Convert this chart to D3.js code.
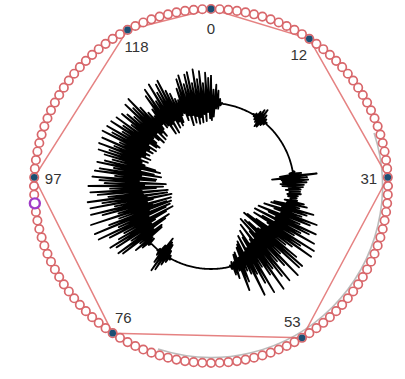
<!DOCTYPE html>
<html>
<head>
<meta charset="utf-8">
<script src="https://cdn.jsdelivr.net/npm/d3@7"></script>
<style>
  html, body { margin: 0; padding: 0; background: #fff; }
  svg { display: block; }
</style>
</head>
<body>
<svg id="chart" width="405" height="379"></svg>
<script>
// Ring of positions around the circle
const ringSize = 128;
// Positions that are marked and joined by the polygon
const markedPositions = [0, 12, 31, 53, 76, 97, 118];
// Currently selected position
const selectedPosition = 94;
// Labels drawn next to the marked positions
const markedLabels = ["0", "12", "31", "53", "76", "97", "118"];

// Signal samples drawn around the inner circle (clockwise from the top)
const signal = [
  .62,-.38,.30,-.30,.41,-.12,.28,-.12,.10,-.04,.02,0,0,0,0,0,
  0,0,0,0,0,0,0,0,0,0,0,0,0,0,0,0,
  0,0,0,0,0,0,0,0,0,.02,-.03,.06,-.08,.14,-.12,.22,
  -.20,.26,-.18,.15,-.10,.08,-.05,.03,0,0,0,0,0,0,0,0,
  0,0,0,0,0,0,0,0,0,0,0,0,0,0,0,0,
  0,0,0,0,0,0,0,0,0,0,0,0,0,0,0,0,
  0,0,0,0,0,0,0,0,0,0,0,.04,-.08,.18,-.30,.52,
  -.48,.30,-.27,.32,-.25,.28,-.30,.22,-.26,.20,-.12,.15,-.18,.14,-.10,.16,
  -.14,.10,-.12,.08,-.06,.10,-.18,.26,-.12,.34,-.40,.18,-.46,.52,-.20,.38,
  -.60,.28,-.35,.66,-.18,.52,-.70,.30,-.44,.72,-.25,.58,-.75,.40,-.22,.78,
  -.52,.30,-.72,.86,-.35,.54,-.28,.88,-.60,.40,-.82,.26,-.90,.62,-.38,.85,
  -.44,.82,-.68,.30,-.78,.92,-.40,.55,-.86,.38,-.52,.88,-.32,.70,-.76,.44,
  -.38,.95,-.30,.52,-.66,.28,-.50,.90,-.25,.62,-.58,.36,-.20,.85,-.48,.30,
  -.42,.20,-.36,.44,-.14,.62,-.28,.14,-.24,.30,-.08,.20,-.10,.06,-.03,0,
  0,0,0,0,0,0,0,0,0,0,0,0,0,0,0,0,
  0,0,0,0,0,0,0,0,0,0,0,0,0,0,0,0,
  0,0,0,0,0,0,0,0,0,0,0,0,0,0,0,0,
  0,0,0,0,0,0,0,.03,-.06,.12,-.15,.22,-.28,.38,-.32,.45,
  -.40,.26,-.18,.10,-.05,.02,0,0,0,0,0,0,0,0,.06,-.12,
  .20,-.12,.35,-.42,.18,-.45,.62,-.25,.70,-.60,.30,-.72,.66,-.28,.78,-.40,
  .52,-.70,.35,-.88,.68,-.30,.92,-.74,.40,-.85,.95,-.36,.58,-.90,.32,-.80,
  .96,-.48,.30,-.92,.65,-.38,.90,-.52,.34,-.95,.88,-.40,.60,-.86,.92,-.32,
  .45,-.88,.68,-.30,.84,-.62,.40,-.78,.88,-.36,.52,-.84,.64,-.24,.80,-.60,
  .30,-.62,.76,-.28,.66,-.72,.35,-.55,.74,-.24,.58,-.68,.42,-.56,.62,-.30,
  .78,-.22,.55,-.35,.82,-.16,.48,-.38,.80,-.24,.40,-.32,.86,-.20,.65,-.36,
  .82,-.25,.46,-.40,.80,-.18,.52,-.36,.75,-.42,.38,-.30,.70,-.18,.60,-.30,
  .45,-.42,.78,-.16,.60,-.40,.82,-.24,.50,-.36,.30,-.20,.15,-.10,.30,-.22,
  .62,-.20,.75,-.44,.40,-.22,.80,-.46,.55,-.18,.72,-.38,.78,-.25,.50,-.36,
  .40,-.30,.25,-.15,.20,-.12,.45,-.30,.65,-.20,.72,-.44,.50,-.22,.70,-.40,
  .74,-.26,.48,-.44,.78,-.30,.55,-.42,.72,-.24,.45,-.40,.68,-.20,.56,-.34
];

const width = 405, height = 379;
const cx = 211, cy = 186;
const ringRadius = 177;
const labelRadius = 158;
const baseRadius = 83;

const svg = d3.select("#chart");
const g = svg.append("g").attr("transform", `translate(${cx},${cy})`);

// angle of a ring position, clockwise from 12 o'clock
const posAngle = d3.scaleLinear().domain([0, ringSize]).range([0, 2 * Math.PI]);
const px = (r, a) => r * Math.sin(a);
const py = (r, a) => -r * Math.cos(a);

// faint shadow arc along the lower right of the ring
g.append("path")
  .attr("d", d3.arc()({innerRadius: 171.5, outerRadius: 171.5,
    startAngle: Math.PI * 0.40, endAngle: Math.PI * 1.10}))
  .attr("fill", "none")
  .attr("stroke", "#777")
  .attr("stroke-opacity", 0.5)
  .attr("stroke-width", 1.6);

// polygon joining the marked positions
const polyPts = markedPositions.map(p => [px(ringRadius, posAngle(p)), py(ringRadius, posAngle(p))]);
g.append("path")
  .attr("d", d3.line()(polyPts) + "Z")
  .attr("fill", "none")
  .attr("stroke", "#e06c6c")
  .attr("stroke-opacity", 0.85)
  .attr("stroke-width", 1.5);

// ring of small circles
g.append("g").selectAll("circle")
  .data(d3.range(ringSize))
  .join("circle")
  .attr("cx", d => px(ringRadius, posAngle(d)))
  .attr("cy", d => py(ringRadius, posAngle(d)))
  .attr("r", 4.2)
  .attr("fill", "#fff")
  .attr("stroke", "#d8676b")
  .attr("stroke-width", 1.7);

// selected position
g.append("circle")
  .attr("cx", px(ringRadius, posAngle(selectedPosition)))
  .attr("cy", py(ringRadius, posAngle(selectedPosition)))
  .attr("r", 5)
  .attr("fill", "#fff")
  .attr("stroke", "#a03cc8")
  .attr("stroke-width", 2.4);

// marked positions
g.append("g").selectAll("circle")
  .data(markedPositions)
  .join("circle")
  .attr("cx", d => px(ringRadius, posAngle(d)))
  .attr("cy", d => py(ringRadius, posAngle(d)))
  .attr("r", 3.4)
  .attr("fill", "#1c4f73");

// labels
g.append("g").selectAll("text")
  .data(markedPositions)
  .join("text")
  .attr("x", d => px(labelRadius, posAngle(d)))
  .attr("y", d => py(labelRadius, posAngle(d)))
  .attr("text-anchor", "middle")
  .attr("dominant-baseline", "central")
  .attr("font-family", "'Liberation Sans', Arial, sans-serif")
  .attr("font-size", 15)
  .attr("fill", "#333")
  .text((d, i) => markedLabels[i]);

// signal drawn around the inner circle
const sampleAngle = d3.scaleLinear().domain([0, signal.length]).range([0, 2 * Math.PI]);
const amp = d3.scaleLinear().domain([-1, 1]).range([baseRadius - 45, baseRadius + 45]);
const wave = d3.lineRadial()
  .angle((d, i) => sampleAngle(i))
  .radius(d => amp(d));
const pts = signal.concat([signal[0]]);
g.append("path")
  .attr("d", wave(pts))
  .attr("fill", "none")
  .attr("stroke", "#000")
  .attr("stroke-width", 1.8)
  .attr("stroke-linejoin", "round");
</script>
</body>
</html>
